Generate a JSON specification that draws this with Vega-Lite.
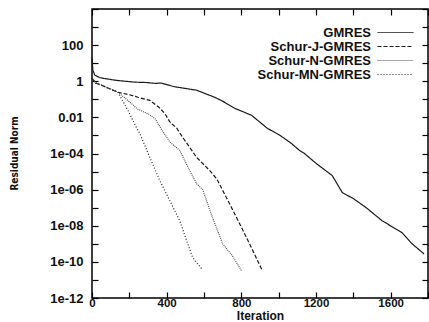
{
  "$schema": "https://vega.github.io/schema/vega-lite/v6.json",
  "width": 336,
  "height": 289,
  "autosize": {"type": "none"},
  "padding": {"left": 92, "top": 9, "right": 1, "bottom": 24},
  "background": "white",
  "config": {
    "view": {"stroke": "black", "strokeWidth": 1.5},
    "font": "Liberation Sans",
    "axis": {"domain": false, "grid": false, "ticks": true, "tickColor": "#000000", "tickOpacity": 1, "tickSize": 6, "tickWidth": 1.2, "offset": -6, "labelFont": "Liberation Sans", "labelFontWeight": "bold", "labelFontSize": 13, "labelColor": "#111", "titleColor": "#111"}
  },
  "data": {"values": [
    {"s": "GMRES", "it": 0, "r": 20},
    {"s": "GMRES", "it": 5, "r": 4},
    {"s": "GMRES", "it": 15, "r": 2.2},
    {"s": "GMRES", "it": 40, "r": 1.6},
    {"s": "GMRES", "it": 70, "r": 1.4},
    {"s": "GMRES", "it": 130, "r": 1.12},
    {"s": "GMRES", "it": 230, "r": 0.89},
    {"s": "GMRES", "it": 290, "r": 0.85},
    {"s": "GMRES", "it": 340, "r": 0.76},
    {"s": "GMRES", "it": 370, "r": 0.8},
    {"s": "GMRES", "it": 440, "r": 0.5},
    {"s": "GMRES", "it": 500, "r": 0.4},
    {"s": "GMRES", "it": 560, "r": 0.32},
    {"s": "GMRES", "it": 657, "r": 0.13},
    {"s": "GMRES", "it": 700, "r": 0.079},
    {"s": "GMRES", "it": 764, "r": 0.032},
    {"s": "GMRES", "it": 855, "r": 0.013},
    {"s": "GMRES", "it": 940, "r": 0.00245},
    {"s": "GMRES", "it": 1000, "r": 0.00112},
    {"s": "GMRES", "it": 1031, "r": 0.00068},
    {"s": "GMRES", "it": 1068, "r": 0.00036},
    {"s": "GMRES", "it": 1111, "r": 0.00015},
    {"s": "GMRES", "it": 1138, "r": 0.0001},
    {"s": "GMRES", "it": 1202, "r": 2.75e-5},
    {"s": "GMRES", "it": 1287, "r": 6e-6},
    {"s": "GMRES", "it": 1341, "r": 6.8e-7},
    {"s": "GMRES", "it": 1400, "r": 3.2e-7},
    {"s": "GMRES", "it": 1469, "r": 1e-7},
    {"s": "GMRES", "it": 1554, "r": 1.9e-8},
    {"s": "GMRES", "it": 1661, "r": 4.1e-9},
    {"s": "GMRES", "it": 1715, "r": 1e-9},
    {"s": "GMRES", "it": 1779, "r": 2.75e-10},
    {"s": "Schur-J-GMRES", "it": 0, "r": 1.5},
    {"s": "Schur-J-GMRES", "it": 20, "r": 0.8},
    {"s": "Schur-J-GMRES", "it": 60, "r": 0.55},
    {"s": "Schur-J-GMRES", "it": 139, "r": 0.245},
    {"s": "Schur-J-GMRES", "it": 200, "r": 0.18},
    {"s": "Schur-J-GMRES", "it": 246, "r": 0.13},
    {"s": "Schur-J-GMRES", "it": 310, "r": 0.087},
    {"s": "Schur-J-GMRES", "it": 360, "r": 0.035},
    {"s": "Schur-J-GMRES", "it": 390, "r": 0.0166},
    {"s": "Schur-J-GMRES", "it": 417, "r": 0.0056},
    {"s": "Schur-J-GMRES", "it": 454, "r": 0.0025},
    {"s": "Schur-J-GMRES", "it": 486, "r": 0.00078},
    {"s": "Schur-J-GMRES", "it": 561, "r": 6e-5},
    {"s": "Schur-J-GMRES", "it": 630, "r": 1.15e-5},
    {"s": "Schur-J-GMRES", "it": 668, "r": 4e-6},
    {"s": "Schur-J-GMRES", "it": 737, "r": 1.66e-7},
    {"s": "Schur-J-GMRES", "it": 791, "r": 1.3e-8},
    {"s": "Schur-J-GMRES", "it": 844, "r": 1e-9},
    {"s": "Schur-J-GMRES", "it": 913, "r": 3.2e-11},
    {"s": "Schur-N-GMRES", "it": 0, "r": 1.5},
    {"s": "Schur-N-GMRES", "it": 20, "r": 0.8},
    {"s": "Schur-N-GMRES", "it": 60, "r": 0.55},
    {"s": "Schur-N-GMRES", "it": 139, "r": 0.245},
    {"s": "Schur-N-GMRES", "it": 192, "r": 0.087},
    {"s": "Schur-N-GMRES", "it": 246, "r": 0.028},
    {"s": "Schur-N-GMRES", "it": 299, "r": 0.016},
    {"s": "Schur-N-GMRES", "it": 337, "r": 0.0087},
    {"s": "Schur-N-GMRES", "it": 374, "r": 0.002},
    {"s": "Schur-N-GMRES", "it": 420, "r": 0.0004},
    {"s": "Schur-N-GMRES", "it": 470, "r": 0.00015},
    {"s": "Schur-N-GMRES", "it": 523, "r": 1.15e-5},
    {"s": "Schur-N-GMRES", "it": 561, "r": 2.1e-6},
    {"s": "Schur-N-GMRES", "it": 593, "r": 1e-6},
    {"s": "Schur-N-GMRES", "it": 646, "r": 2.75e-8},
    {"s": "Schur-N-GMRES", "it": 700, "r": 1e-9},
    {"s": "Schur-N-GMRES", "it": 753, "r": 2.1e-10},
    {"s": "Schur-N-GMRES", "it": 801, "r": 3.2e-11},
    {"s": "Schur-MN-GMRES", "it": 0, "r": 1.5},
    {"s": "Schur-MN-GMRES", "it": 20, "r": 0.8},
    {"s": "Schur-MN-GMRES", "it": 60, "r": 0.55},
    {"s": "Schur-MN-GMRES", "it": 139, "r": 0.245},
    {"s": "Schur-MN-GMRES", "it": 192, "r": 0.025},
    {"s": "Schur-MN-GMRES", "it": 240, "r": 0.0025},
    {"s": "Schur-MN-GMRES", "it": 256, "r": 0.0013},
    {"s": "Schur-MN-GMRES", "it": 310, "r": 6e-5},
    {"s": "Schur-MN-GMRES", "it": 363, "r": 3.2e-6},
    {"s": "Schur-MN-GMRES", "it": 417, "r": 2.45e-7},
    {"s": "Schur-MN-GMRES", "it": 470, "r": 1.9e-8},
    {"s": "Schur-MN-GMRES", "it": 507, "r": 1.5e-9},
    {"s": "Schur-MN-GMRES", "it": 540, "r": 1.66e-10},
    {"s": "Schur-MN-GMRES", "it": 588, "r": 4.1e-11}
  ]},
  "resolve": {"axis": {"x": "independent", "y": "independent"}},
  "layer": [
    {
      "mark": {"type": "line", "strokeWidth": 1.2},
      "encoding": {
        "x": {"field": "it", "type": "quantitative",
          "scale": {"domain": [0, 1800], "nice": false, "zero": false},
          "axis": {"orient": "bottom", "title": "Iteration", "values": [0, 200, 400, 600, 800, 1000, 1200, 1400, 1600, 1800],
            "format": "d",
            "labelExpr": "datum.value % 400 == 0 && datum.value < 1800 ? datum.label : ''",
            "labelFlush": false, "labelPadding": -1, "labelOverlap": false, "labelFontSize": 11.5,
            "titleFont": "Liberation Sans", "titleFontWeight": "bold", "titleFontSize": 12, "titleBaseline": "bottom", "titleY": 30}},
        "y": {"field": "r", "type": "quantitative",
          "scale": {"type": "log", "domain": [1e-12, 10000], "nice": false},
          "axis": {"orient": "left", "title": "Residual Norm",
            "values": [1e-12, 1e-11, 1e-10, 1e-9, 1e-8, 1e-7, 1e-6, 1e-5, 1e-4, 1e-3, 0.01, 0.1, 1, 10, 100, 1000, 10000],
            "labelExpr": "round(log(datum.value)/LN10) % 2 != 0 || round(log(datum.value)/LN10) > 2 ? '' : round(log(datum.value)/LN10) == 2 ? '100' : round(log(datum.value)/LN10) == 0 ? '1' : round(log(datum.value)/LN10) == -2 ? '0.01' : '1e-' + (round(-log(datum.value)/LN10) < 10 ? '0' : '') + round(-log(datum.value)/LN10)",
            "labelPadding": 9, "labelOverlap": false, "labelFlush": false,
            "titleFont": "DejaVu Sans Condensed", "titleFontWeight": "bold", "titleFontSize": 10, "titleX": -84, "titleY": 144, "titleAngle": -90, "titleAlign": "center", "titleBaseline": "middle"}},
        "color": {"field": "s", "type": "nominal",
          "scale": {"domain": ["GMRES", "Schur-J-GMRES", "Schur-N-GMRES", "Schur-MN-GMRES"], "range": ["#1a1a1a", "#1a1a1a", "#555555", "#222222"]},
          "legend": {"title": null, "orient": "none", "legendX": 297, "legendY": 17, "symbolType": "M-4,0L4,0", "symbolSize": 81, "symbolStrokeWidth": 1, "symbolFillColor": "transparent",
            "labelAlign": "right", "labelOffset": -31, "labelFont": "Liberation Sans", "labelFontWeight": "bold", "labelFontSize": 13, "labelColor": "#111", "rowPadding": -5, "padding": 0, "labelLimit": 300}},
        "strokeDash": {"field": "s", "type": "nominal",
          "scale": {"domain": ["GMRES", "Schur-J-GMRES", "Schur-N-GMRES", "Schur-MN-GMRES"], "range": [[1, 0], [4, 2], [1, 1], [1, 2]]},
          "legend": null}
      }
    },
    {
      "mark": {"type": "line", "opacity": 0},
      "encoding": {
        "x": {"field": "it", "type": "quantitative",
          "axis": {"orient": "top", "title": null, "labels": false, "values": [0, 200, 400, 600, 800, 1000, 1200, 1400, 1600, 1800]}},
        "y": {"field": "r", "type": "quantitative",
          "axis": {"orient": "right", "title": null, "labels": false,
            "values": [1e-12, 1e-11, 1e-10, 1e-9, 1e-8, 1e-7, 1e-6, 1e-5, 1e-4, 1e-3, 0.01, 0.1, 1, 10, 100, 1000, 10000]}},
        "detail": {"field": "s", "type": "nominal"}
      }
    }
  ]
}
